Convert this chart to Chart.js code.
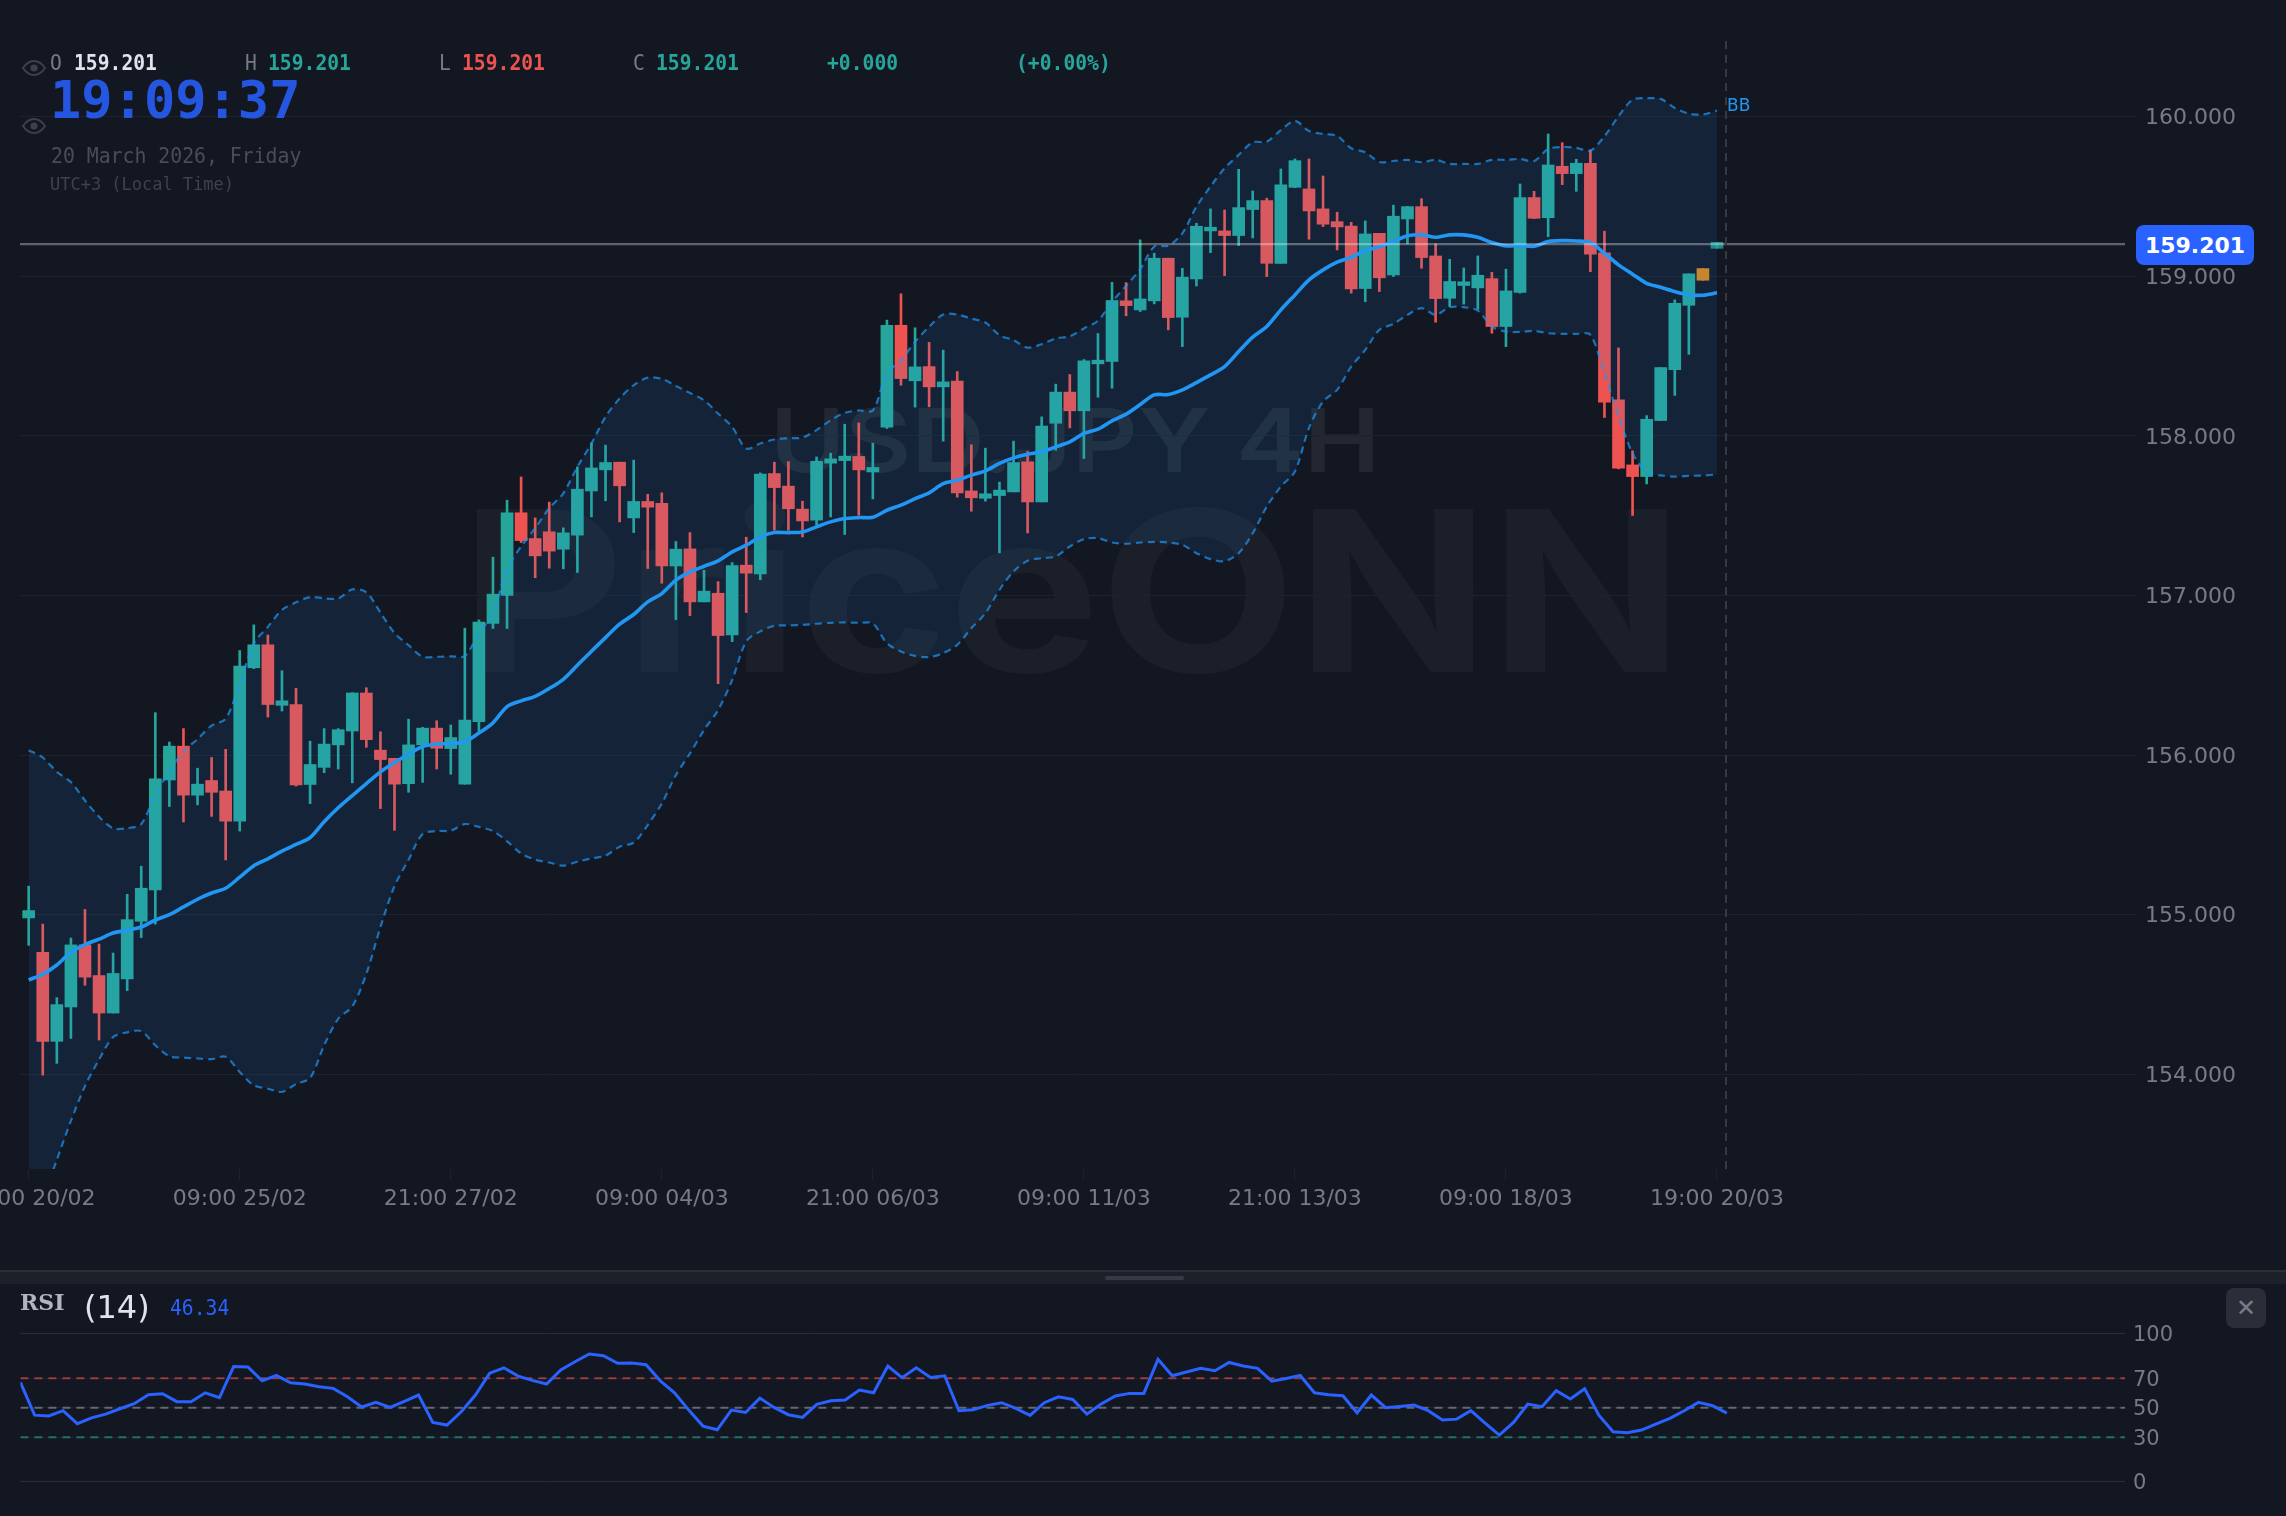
<!DOCTYPE html>
<html>
<head>
<meta charset="utf-8">
<title>USD/JPY 4H</title>
<script src="https://cdn.jsdelivr.net/npm/chart.js@4/dist/chart.umd.min.js"></script>
<style>
  html, body { margin: 0; padding: 0; background: #131722; }
  #page { position: relative; width: 2286px; height: 1516px; overflow: hidden; background: #131722; }
  canvas { position: absolute; left: 0; z-index: 1; }
  #mainChart { top: 0; }
  #rsiChart { top: 1285px; }
  .t { position: absolute; z-index: 2; white-space: pre; font-family: "DejaVu Sans Mono", monospace; line-height: 1; transform-origin: left top; }
  .wm { position: absolute; z-index: 0; white-space: pre; font-family: Inter, sans-serif; line-height: 1; transform-origin: left top; }
  .ohlc { top: 52px; font-size: 21.5px; transform: scaleX(0.915); }
  .b { font-weight: bold; }
  svg.eye { position: absolute; z-index: 2; left: 22px; }
</style>
</head>
<body>
<div id="page">
  <div class="wm" style="left:770px;top:396px;font-size:88px;font-weight:600;color:rgba(255,255,255,0.07);transform:scaleX(1.158)">USD.JPY 4H</div>
  <div class="wm" style="left:460px;top:479px;font-size:224px;font-weight:700;color:rgba(255,255,255,0.035);transform:scaleX(1.135)">PriceONN</div>

  <canvas id="mainChart" width="2286" height="1240"></canvas>
  <canvas id="rsiChart" width="2286" height="231"></canvas>

  <svg class="eye" style="top:60px" width="24" height="16" viewBox="0 0 24 16"><path d="M1 8C5 2 9 1 12 1s7 1 11 7c-4 6-8 7-11 7S5 14 1 8z" fill="none" stroke="#3d4049" stroke-width="2"/><circle cx="12" cy="8" r="3.6" fill="#3d4049"/></svg>
  <svg class="eye" style="top:118px" width="24" height="16" viewBox="0 0 24 16"><path d="M1 8C5 2 9 1 12 1s7 1 11 7c-4 6-8 7-11 7S5 14 1 8z" fill="none" stroke="#3d4049" stroke-width="2"/><circle cx="12" cy="8" r="3.6" fill="#3d4049"/></svg>

  <div class="t ohlc" style="left:50px;color:#787b86">O</div>
  <div class="t ohlc b" style="left:74px;color:#e0e3eb">159.201</div>
  <div class="t ohlc" style="left:245px;color:#787b86">H</div>
  <div class="t ohlc b" style="left:268px;color:#26a69a">159.201</div>
  <div class="t ohlc" style="left:439px;color:#787b86">L</div>
  <div class="t ohlc b" style="left:462px;color:#ef5350">159.201</div>
  <div class="t ohlc" style="left:633px;color:#787b86">C</div>
  <div class="t ohlc b" style="left:656px;color:#26a69a">159.201</div>
  <div class="t ohlc b" style="left:827px;color:#26a69a">+0.000</div>
  <div class="t ohlc b" style="left:1016px;color:#26a69a">(+0.00%)</div>

  <div class="t" style="left:50px;top:74px;font-size:52px;font-weight:bold;color:#2556e0">19:09:37</div>
  <div class="t" style="left:51px;top:145px;font-size:22px;color:#4a4d57;transform:scaleX(0.9)">20 March 2026, Friday</div>
  <div class="t" style="left:50px;top:176px;font-size:17.5px;color:#3f424c;transform:scaleX(0.97)">UTC+3 (Local Time)</div>

  <div class="t" style="left:1727px;top:97px;font-size:17px;color:#2196f3;font-family:'DejaVu Sans'">BB</div>
  <div class="t" style="left:2136px;top:225px;width:118px;height:40px;line-height:41px;border-radius:8px;background:#2962ff;color:#fff;text-align:center;font-family:'DejaVu Sans';font-weight:bold;font-size:22px">159.201</div>

  <div style="position:absolute;z-index:2;left:0;top:1270px;width:2286px;height:14px;background:#1c2029;border-top:2px solid #2a2e39;box-sizing:border-box"></div>
  <div style="position:absolute;z-index:2;left:1105px;top:1276px;width:79px;height:4px;border-radius:2px;background:#363a45"></div>

  <div class="t" style="left:20px;top:1291px;font-size:22px;font-weight:bold;font-family:'DejaVu Serif';color:#b2b5be">RSI</div>
  <div class="t" style="left:84px;top:1291px;font-size:32px;font-family:'DejaVu Sans';color:#e0e3eb">(14)</div>
  <div class="t" style="left:170px;top:1297px;font-size:21.5px;color:#2962ff;transform:scaleX(0.915)">46.34</div>
  <div class="t" style="left:2226px;top:1288px;width:40px;height:40px;line-height:40px;border-radius:8px;background:#2a2e39;color:#787b86;text-align:center;font-family:'DejaVu Sans';font-size:24px">✕</div>
</div>

<script>
const priceTicks = [154, 155, 156, 157, 158, 159, 160];
const timeTickIndex = [0, 15, 30, 45, 60, 75, 90, 105, 120];
const timeTickLabels = ['09:00 20/02', '09:00 25/02', '21:00 27/02', '09:00 04/03', '21:00 06/03', '09:00 11/03', '21:00 13/03', '09:00 18/03', '19:00 20/03'];
const rsiTicks = [100, 70, 50, 30, 0];
const rsiLevels = [70, 50, 30];
const lastPrice = 159.201;
const cursorIndex = 120.64;

const opens = [154.980,154.765,154.207,154.422,154.811,154.619,154.384,154.598,154.959,155.156,
  155.844,156.056,155.749,155.841,155.775,155.586,156.547,156.691,156.312,156.317,
  155.816,155.923,156.064,156.151,156.389,156.031,155.980,155.821,156.064,156.169,
  156.041,155.818,156.210,156.825,157.000,157.518,157.357,157.399,157.290,157.378,
  157.655,157.787,157.835,157.486,157.589,157.578,157.185,157.292,156.960,157.014,
  156.753,157.190,157.135,157.764,157.685,157.541,157.472,157.829,157.845,157.871,
  157.774,158.054,158.693,158.345,158.434,158.307,158.343,157.655,157.609,157.626,
  157.649,157.837,157.586,158.079,158.274,158.157,158.451,158.466,158.846,158.789,
  158.846,159.113,158.743,158.983,159.284,159.284,159.255,159.418,159.474,159.081,
  159.557,159.547,159.422,159.342,159.315,158.923,159.269,159.008,159.359,159.436,
  159.127,158.862,158.942,158.927,158.985,158.685,158.898,159.493,159.367,159.689,
  159.643,159.708,159.146,158.225,157.818,157.745,158.096,158.415,158.818,158.975,159.175];
const closes = [155.026,154.207,154.437,154.811,154.609,154.384,154.632,154.969,155.166,155.852,
  156.056,155.749,155.818,155.767,155.586,156.558,156.691,156.317,156.340,155.813,
  155.941,156.069,156.159,156.389,156.097,155.972,155.818,156.064,156.169,156.043,
  156.110,156.220,156.834,157.008,157.518,157.344,157.248,157.278,157.392,157.666,
  157.799,157.833,157.687,157.589,157.553,157.185,157.290,156.960,157.027,156.749,
  157.188,157.140,157.760,157.676,157.543,157.467,157.841,157.856,157.873,157.787,
  157.802,158.693,158.359,158.432,158.307,158.338,157.643,157.612,157.637,157.660,
  157.833,157.586,158.061,158.274,158.157,158.470,158.474,158.848,158.816,158.858,
  159.113,158.741,158.994,159.313,159.307,159.255,159.430,159.474,159.081,159.572,
  159.724,159.409,159.326,159.309,158.921,159.265,158.990,159.376,159.436,159.117,
  158.860,158.967,158.965,159.006,158.685,158.908,159.493,159.363,159.697,159.643,
  159.708,159.138,158.211,157.797,157.745,158.104,158.428,158.831,159.015,159.048,159.213];
const highs = [155.179,154.941,154.481,154.854,155.033,154.816,154.760,155.128,155.304,156.266,
  156.082,156.166,155.918,155.985,156.036,156.655,156.816,156.752,156.529,156.419,
  156.087,156.166,156.166,156.391,156.422,156.146,155.980,156.225,156.174,156.215,
  156.189,156.795,156.847,157.240,157.597,157.743,157.486,157.585,157.424,157.806,
  157.956,157.942,157.835,157.848,157.634,157.643,157.338,157.394,157.158,157.087,
  157.206,157.365,157.768,157.835,157.839,157.591,157.868,157.891,158.073,158.081,
  157.954,158.725,158.890,158.677,158.585,158.537,158.403,157.944,157.923,157.710,
  157.967,157.902,158.119,158.324,158.384,158.478,158.641,158.962,158.960,159.228,
  159.144,159.113,159.050,159.332,159.422,159.415,159.670,159.534,159.489,159.672,
  159.735,159.735,159.628,159.401,159.338,159.347,159.269,159.445,159.438,159.486,
  159.203,159.106,159.052,159.127,159.025,159.044,159.578,159.532,159.891,159.837,
  159.733,159.791,159.282,158.551,157.906,158.127,158.428,158.852,159.015,159.048,159.213];
const lows = [154.808,153.995,154.069,154.225,154.558,154.215,154.384,154.524,154.857,154.941,
  155.678,155.581,155.688,155.616,155.343,155.524,156.542,156.238,156.276,155.806,
  155.696,155.890,155.913,155.826,156.049,155.665,155.529,155.767,155.829,155.913,
  155.880,155.818,156.151,156.793,156.793,157.332,157.111,157.171,157.167,157.144,
  157.492,157.593,157.461,157.394,157.169,157.077,156.849,156.874,156.960,156.448,
  156.711,156.893,157.098,157.409,157.409,157.367,157.440,157.492,157.382,157.503,
  157.605,158.046,158.317,158.180,158.182,157.967,157.616,157.528,157.591,157.267,
  157.649,157.392,157.586,157.910,158.050,157.858,158.242,158.299,158.752,158.779,
  158.827,158.664,158.559,158.939,159.148,159.004,159.192,159.240,158.998,159.081,
  159.555,159.232,159.311,159.165,158.894,158.841,158.904,158.998,159.203,159.050,
  158.712,158.810,158.825,158.793,158.643,158.559,158.894,159.361,159.248,159.574,
  159.532,159.029,158.115,157.793,157.501,157.699,158.096,158.253,158.511,158.975,159.175];

const bbUpper = [156.031,155.985,155.895,155.831,155.716,155.614,155.542,155.542,155.568,155.755,
  155.900,156.023,156.100,156.184,156.228,156.445,156.701,156.803,156.910,156.957,
  156.990,156.982,156.982,157.038,157.020,156.893,156.765,156.688,156.616,156.616,
  156.619,156.621,156.765,156.889,157.171,157.307,157.422,157.547,157.640,157.806,
  157.952,158.119,158.234,158.317,158.365,158.357,158.313,158.269,158.223,158.140,
  158.056,157.921,157.952,157.977,157.985,157.990,158.036,158.098,158.144,158.159,
  158.159,158.391,158.474,158.589,158.683,158.760,158.760,158.735,158.710,158.631,
  158.599,158.553,158.574,158.610,158.624,158.673,158.721,158.840,158.940,159.044,
  159.186,159.192,159.269,159.436,159.562,159.676,159.760,159.839,159.843,159.916,
  159.973,159.910,159.891,159.879,159.802,159.777,159.716,159.722,159.729,159.714,
  159.729,159.704,159.704,159.704,159.729,159.729,159.735,159.722,159.797,159.810,
  159.804,159.787,159.877,160.002,160.106,160.115,160.111,160.054,160.019,160.013,160.038];
const bbMiddle = [154.591,154.627,154.685,154.765,154.813,154.847,154.885,154.903,154.923,154.967,
  155.000,155.049,155.097,155.136,155.166,155.235,155.307,155.350,155.399,155.440,
  155.483,155.583,155.670,155.746,155.821,155.895,155.954,156.005,156.054,156.069,
  156.072,156.084,156.138,156.202,156.304,156.340,156.368,156.417,156.475,156.563,
  156.651,156.736,156.820,156.881,156.960,157.012,157.096,157.148,157.183,157.217,
  157.273,157.315,157.367,157.394,157.394,157.398,157.430,157.461,157.482,157.488,
  157.490,157.534,157.566,157.607,157.643,157.701,157.722,157.754,157.781,157.827,
  157.862,157.885,157.900,157.931,157.962,158.015,158.042,158.094,158.136,158.196,
  158.257,158.259,158.288,158.334,158.382,158.434,158.528,158.618,158.685,158.789,
  158.883,158.977,159.040,159.088,159.119,159.161,159.186,159.217,159.253,159.259,
  159.244,159.259,159.259,159.244,159.211,159.190,159.192,159.188,159.217,159.223,
  159.221,159.211,159.144,159.071,159.013,158.956,158.931,158.904,158.884,158.881,158.896];
const bbLower = [152.980,153.222,153.465,153.708,153.926,154.092,154.233,154.263,154.271,154.182,
  154.113,154.105,154.100,154.095,154.110,154.015,153.931,153.910,153.890,153.939,
  153.977,154.182,154.348,154.425,154.629,154.923,155.179,155.345,155.506,155.524,
  155.527,155.568,155.550,155.524,155.460,155.384,155.345,155.327,155.307,155.332,
  155.353,155.370,155.426,155.451,155.562,155.697,155.875,156.010,156.157,156.282,
  156.470,156.712,156.775,156.810,156.812,156.816,156.823,156.829,156.831,156.829,
  156.825,156.701,156.649,156.622,156.614,156.639,156.691,156.795,156.889,157.035,
  157.150,157.217,157.234,157.244,157.307,157.353,157.359,157.332,157.324,157.332,
  157.336,157.332,157.317,157.265,157.228,157.215,157.265,157.390,157.557,157.683,
  157.777,158.050,158.215,158.288,158.434,158.539,158.664,158.701,158.758,158.800,
  158.758,158.806,158.806,158.785,158.685,158.653,158.651,158.658,158.643,158.639,
  158.639,158.633,158.392,158.121,157.891,157.770,157.752,157.745,157.749,157.752,157.758];

const rsiValues = [67.1,45.0,44.4,48.0,39.2,43.2,45.7,49.3,52.7,58.8,
  59.5,54.1,54.1,60.1,56.8,77.9,77.5,68.2,71.8,66.9,
  66.0,64.2,63.1,57.4,50.5,53.6,50.2,54.3,58.6,40.1,
  38.3,47.3,58.6,73.4,77.0,71.4,68.5,66.0,75.5,81.1,
  86.3,85.1,80.0,80.2,79.1,68.2,60.1,48.4,37.6,35.1,
  48.4,46.8,56.5,50.2,45.3,43.5,52.3,54.7,55.2,61.9,
  60.1,78.2,70.3,77.0,70.5,71.6,48.0,48.6,51.6,53.4,
  49.5,44.8,53.4,57.4,55.6,45.7,52.5,57.9,59.7,59.7,
  82.7,71.6,74.1,76.6,75.0,80.6,78.2,76.6,68.0,69.8,
  71.8,60.1,58.8,58.1,46.6,58.6,50.0,50.9,51.8,48.0,
  41.7,42.3,48.0,39.6,31.5,40.1,52.5,50.7,61.5,55.9,
  62.8,45.0,33.8,33.1,34.9,39.0,42.8,48.0,53.6,51.4,46.34];

const UP = '#26a69a';
const DOWN = '#ef5350';
const FORMING = '#d9851c'; // candle before the last one is orange in the original
const GRID = '#1e222d';
const AXIS_TEXT = '#787b86';
const AXIS_FONT = { family: 'DejaVu Sans', size: 22 };

const candleColors = opens.map((o, i) => {
    if (i === 119) return FORMING;
    if (i === 120) return 'rgba(38,166,154,0.8)';
    return closes[i] >= o ? UP : DOWN;
});
const toPoints = arr => arr.map((y, x) => ({ x, y }));
const flatLine = (x0, x1, y) => [{ x: x0, y }, { x: x1, y }];

// plot box is fixed by hand so the candles land where they do in the screenshot
const fixWidth = w => axis => { axis.width = w; axis.paddingTop = 0; axis.paddingBottom = 0; };
const fixHeight = h => axis => { axis.height = h; axis.paddingLeft = 0; axis.paddingRight = 0; };

const mainMinX = -0.618, mainMaxX = 149, mainMinY = 153.407, mainMaxY = 160.48;

new Chart(document.getElementById('mainChart'), {
    type: 'bar',
    data: {
        datasets: [
            { type: 'line', label: 'Cursor', data: [{ x: cursorIndex, y: mainMinY }, { x: cursorIndex, y: mainMaxY }], borderColor: '#363a45', borderWidth: 2, borderDash: [8, 6], pointRadius: 0, order: 1 },
            { type: 'line', label: 'Last', data: flatLine(mainMinX, mainMaxX, lastPrice), borderColor: 'rgba(255,255,255,0.33)', borderWidth: 2.4, pointRadius: 0, order: 1 },
            { type: 'line', label: 'BB mid', data: toPoints(bbMiddle), borderColor: '#2196f3', borderWidth: 3.6, pointRadius: 0, tension: 0.3, order: 2 },
            { type: 'line', label: 'BB upper', data: toPoints(bbUpper), borderColor: 'rgba(33,150,243,0.7)', borderWidth: 2.2, borderDash: [7, 5], pointRadius: 0, tension: 0.3, fill: '+1', backgroundColor: 'rgba(33,150,243,0.1)', order: 3 },
            { type: 'line', label: 'BB lower', data: toPoints(bbLower), borderColor: 'rgba(33,150,243,0.7)', borderWidth: 2.2, borderDash: [7, 5], pointRadius: 0, tension: 0.3, order: 3 },
            { label: 'Body', data: opens.map((o, i) => ({ x: i, y: [o, closes[i]] })), backgroundColor: candleColors, barThickness: 12, grouped: false, order: 4 },
            { label: 'Wick', data: lows.map((l, i) => ({ x: i, y: [l, highs[i]] })), backgroundColor: candleColors, barThickness: 2, grouped: false, order: 5 }
        ]
    },
    options: {
        responsive: false, animation: false, devicePixelRatio: 1,
        layout: { padding: { left: 20, top: 40, right: 0, bottom: 0 } },
        plugins: { legend: { display: false }, tooltip: { enabled: false } },
        scales: {
            x: {
                type: 'linear', min: mainMinX, max: mainMaxX, offset: false,
                afterBuildTicks: axis => { axis.ticks = timeTickIndex.map(value => ({ value })); },
                afterFit: fixHeight(71),
                border: { display: false },
                grid: { offset: false, drawOnChartArea: false, color: GRID, tickLength: 12 },
                ticks: {
                    color: AXIS_TEXT, font: AXIS_FONT, autoSkip: false, maxRotation: 0, padding: 5,
                    callback: v => timeTickLabels[timeTickIndex.indexOf(v)]
                }
            },
            y: {
                position: 'right', min: mainMinY, max: mainMaxY,
                afterBuildTicks: axis => { axis.ticks = priceTicks.map(value => ({ value })); },
                afterFit: fixWidth(161),
                border: { display: false },
                grid: { color: GRID, tickLength: 11 },
                ticks: { color: AXIS_TEXT, font: AXIS_FONT, padding: 9, labelOffset: 2, callback: v => v.toFixed(3) }
            }
        }
    }
});

const rsiMaxX = 148;
const levelColors = ['rgba(239,83,80,0.6)', 'rgba(120,123,134,0.8)', 'rgba(38,166,154,0.6)'];

new Chart(document.getElementById('rsiChart'), {
    type: 'line',
    data: {
        datasets: [
            { label: 'RSI', data: toPoints(rsiValues), borderColor: '#2962ff', borderWidth: 3, pointRadius: 0, tension: 0, order: 1 },
            ...rsiLevels.map((lvl, i) => ({
                label: 'Level ' + lvl, data: flatLine(0, rsiMaxX, lvl),
                borderColor: levelColors[i], borderWidth: 2, borderDash: [8, 6], pointRadius: 0, order: 2
            }))
        ]
    },
    options: {
        responsive: false, animation: false, devicePixelRatio: 1,
        layout: { padding: { left: 20.4, top: 15, right: 0, bottom: 6 } },
        plugins: { legend: { display: false }, tooltip: { enabled: false } },
        scales: {
            x: { type: 'linear', min: 0, max: rsiMaxX, display: false },
            y: {
                position: 'right', min: -19.1, max: 122.8,
                afterBuildTicks: axis => { axis.ticks = rsiTicks.map(value => ({ value })); },
                afterFit: fixWidth(161),
                border: { display: false },
                grid: {
                    drawTicks: false,
                    color: c => (c.tick && (c.tick.value === 100 || c.tick.value === 0)) ? '#2a2e39' : GRID
                },
                ticks: { color: AXIS_TEXT, font: { family: 'DejaVu Sans', size: 21 }, padding: 8, labelOffset: 2 }
            }
        }
    }
});
</script>
</body>
</html>
